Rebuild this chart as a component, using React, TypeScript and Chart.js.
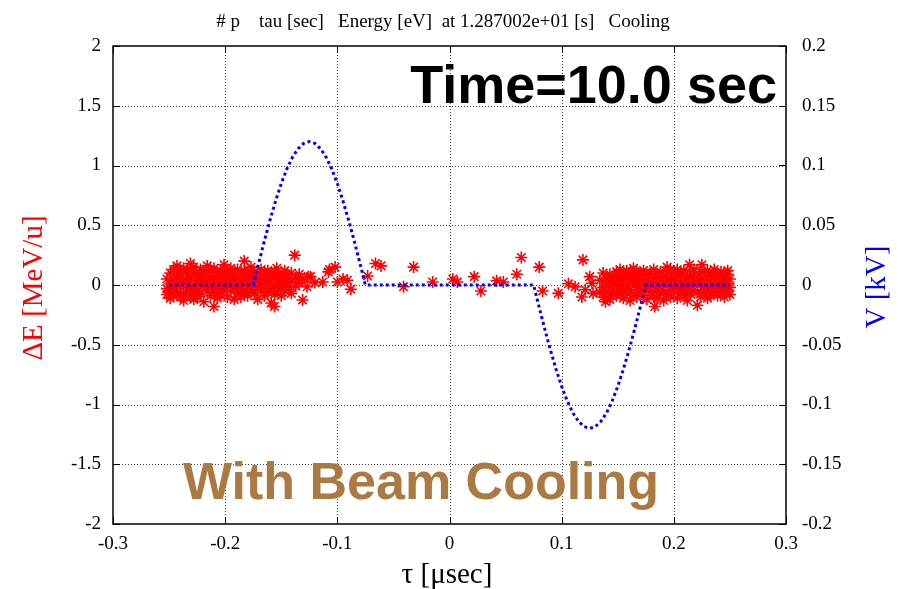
import React, { useEffect, useRef } from "react";
import { Chart, registerables } from "chart.js";

Chart.register(...registerables);

// ---- tick values ----
const xTickValues = [-0.3, -0.2, -0.1, 0, 0.1, 0.2, 0.3];
const yTickValues = [-2, -1.5, -1, -0.5, 0, 0.5, 1, 1.5, 2];
const y2TickValues = [-0.2, -0.15, -0.1, -0.05, 0, 0.05, 0.1, 0.15, 0.2];

// ---- RF voltage (kV) vs tau (usec) ----
const voltTau = [
  -0.25, -0.175, -0.17, -0.165, -0.16, -0.155, -0.15, -0.145, -0.14, -0.135, -0.13,
  -0.125, -0.12, -0.115, -0.11, -0.105, -0.1, -0.095, -0.09, -0.085, -0.08, -0.075,
  0.075, 0.08, 0.085, 0.09, 0.095, 0.1, 0.105, 0.11, 0.115, 0.12,
  0.125, 0.13, 0.135, 0.14, 0.145, 0.15, 0.155, 0.16, 0.165, 0.17, 0.175, 0.25,
];
const voltKV = [
  0, 0, 0.0188, 0.0371, 0.0545, 0.0705, 0.0849, 0.0971, 0.107, 0.1141, 0.1185,
  0.12, 0.1185, 0.1141, 0.107, 0.0971, 0.0849, 0.0705, 0.0545, 0.0371, 0.0188, 0,
  0, -0.0188, -0.0371, -0.0545, -0.0705, -0.0849, -0.0971, -0.107, -0.1141, -0.1185,
  -0.12, -0.1185, -0.1141, -0.107, -0.0971, -0.0849, -0.0705, -0.0545, -0.0371, -0.0188, 0, 0,
];

// ---- particles: [tau (usec), dE (MeV/u)] ----
const leftBunch: [number, number][] = [
  [-0.252, 0.05], [-0.252, -0.03], [-0.252, -0.08],
  [-0.249, 0.1], [-0.249, 0.01], [-0.249, -0.05], [-0.249, -0.11],
  [-0.246, 0.13], [-0.246, 0.04], [-0.246, -0.02], [-0.246, -0.09],
  [-0.243, 0.07], [-0.243, -0.06], [-0.243, 0.16], [-0.243, 0.0],
  [-0.24, 0.11], [-0.24, -0.01], [-0.24, -0.1], [-0.24, 0.05],
  [-0.237, 0.02], [-0.237, 0.14], [-0.237, -0.07], [-0.237, -0.13],
  [-0.234, 0.08], [-0.234, -0.04], [-0.234, 0.12], [-0.234, 0.03],
  [-0.231, -0.09], [-0.231, 0.06], [-0.231, 0.18], [-0.231, -0.02],
  [-0.228, 0.1], [-0.228, 0.0], [-0.228, -0.06], [-0.228, 0.15], [-0.228, -0.12],
  [-0.225, 0.04], [-0.225, -0.1], [-0.225, 0.09], [-0.225, -0.03],
  [-0.222, 0.13], [-0.222, 0.01], [-0.222, -0.07], [-0.222, 0.07],
  [-0.219, -0.01], [-0.219, 0.11], [-0.219, -0.14], [-0.219, 0.05],
  [-0.216, 0.08], [-0.216, -0.05], [-0.216, 0.16], [-0.216, 0.02],
  [-0.213, -0.09], [-0.213, 0.04], [-0.213, 0.12], [-0.213, -0.02],
  [-0.21, 0.07], [-0.21, -0.06], [-0.21, 0.0], [-0.21, 0.14], [-0.21, -0.18],
  [-0.207, 0.1], [-0.207, -0.03], [-0.207, 0.05], [-0.207, -0.11],
  [-0.204, 0.02], [-0.204, 0.12], [-0.204, -0.08], [-0.204, 0.06],
  [-0.201, -0.04], [-0.201, 0.09], [-0.201, 0.17], [-0.201, -0.01],
  [-0.198, 0.05], [-0.198, -0.1], [-0.198, 0.11], [-0.198, 0.0],
  [-0.195, 0.08], [-0.195, -0.05], [-0.195, 0.14], [-0.195, 0.03],
  [-0.192, -0.02], [-0.192, 0.1], [-0.192, -0.12], [-0.192, 0.06],
  [-0.189, 0.04], [-0.189, -0.07], [-0.189, 0.13], [-0.189, 0.0],
  [-0.186, 0.09], [-0.186, -0.03], [-0.186, 0.07], [-0.186, -0.1],
  [-0.183, 0.01], [-0.183, 0.12], [-0.183, -0.06], [-0.183, 0.05], [-0.183, 0.2],
  [-0.18, 0.06], [-0.18, -0.09], [-0.18, 0.1], [-0.18, -0.01],
  [-0.177, 0.03], [-0.177, 0.15], [-0.177, -0.04], [-0.177, 0.08],
  [-0.174, -0.07], [-0.174, 0.05], [-0.174, 0.11], [-0.174, 0.0],
  [-0.171, 0.09], [-0.171, -0.02], [-0.171, 0.04], [-0.171, -0.12],
  [-0.168, 0.02], [-0.168, 0.13], [-0.168, -0.05], [-0.168, 0.07],
  [-0.165, -0.09], [-0.165, 0.06], [-0.165, 0.1], [-0.165, -0.01],
  [-0.162, 0.04], [-0.162, -0.06], [-0.162, 0.12], [-0.162, 0.01],
  [-0.159, 0.08], [-0.159, -0.03], [-0.159, -0.15], [-0.159, 0.05],
  [-0.156, 0.0], [-0.156, 0.11], [-0.156, -0.08], [-0.156, 0.06], [-0.156, -0.18],
  [-0.154, 0.14], [-0.153, 0.04], [-0.153, -0.04], [-0.153, 0.09],
  [-0.15, -0.02], [-0.15, 0.07], [-0.15, 0.02], [-0.15, -0.09],
  [-0.147, 0.05], [-0.147, 0.12], [-0.147, -0.05], [-0.147, 0.01],
  [-0.144, 0.08], [-0.144, -0.02], [-0.144, 0.04],
  [-0.141, 0.03], [-0.141, 0.1], [-0.141, -0.07],
  [-0.138, 0.25], [-0.137, 0.06], [-0.137, -0.01],
  [-0.134, 0.02], [-0.134, 0.09], [-0.131, -0.125], [-0.131, 0.05],
  [-0.127, -0.015], [-0.126, 0.07], [-0.124, 0.07], [-0.12, 0.02],
];

const driftParticles: [number, number][] = [
  [-0.113, 0.025], [-0.108, 0.11], [-0.107, 0.13], [-0.102, 0.15], [-0.1, 0.025],
  [-0.095, 0.05], [-0.091, 0.04], [-0.088, -0.035], [-0.073, 0.075], [-0.066, 0.18],
  [-0.061, 0.16], [-0.041, -0.015], [-0.032, 0.15], [-0.015, 0.025], [0.003, 0.05],
  [0.007, 0.025], [0.022, 0.07], [0.028, -0.05], [0.042, 0.035], [0.048, 0.025],
  [0.06, 0.09], [0.064, 0.23], [0.08, 0.15], [0.083, -0.05], [0.097, -0.07],
  [0.106, 0.01], [0.112, -0.015], [0.119, 0.21], [0.118, -0.1], [0.121, -0.04],
  [0.125, 0.07], [0.127, 0.015], [0.128, -0.07],
];

const rightBunch: [number, number][] = [
  [0.134, 0.04], [0.134, -0.06],
  [0.137, 0.1], [0.137, -0.02], [0.137, -0.1],
  [0.14, 0.06], [0.14, -0.05], [0.14, 0.01], [0.139, -0.14],
  [0.143, 0.09], [0.143, -0.08], [0.143, 0.03], [0.143, -0.12],
  [0.146, 0.0], [0.146, 0.07], [0.146, -0.04],
  [0.149, 0.11], [0.149, -0.09], [0.149, 0.04], [0.149, -0.01],
  [0.152, 0.06], [0.152, -0.06], [0.152, 0.13], [0.152, 0.01],
  [0.155, -0.03], [0.155, 0.09], [0.155, -0.11], [0.155, 0.04],
  [0.158, 0.07], [0.158, -0.07], [0.158, 0.0], [0.158, 0.12],
  [0.161, -0.04], [0.161, 0.05], [0.161, 0.1], [0.161, -0.13],
  [0.164, 0.02], [0.164, -0.08], [0.164, 0.08], [0.164, 0.14],
  [0.167, -0.02], [0.167, 0.06], [0.167, -0.1], [0.167, 0.11],
  [0.17, 0.03], [0.17, -0.05], [0.17, 0.09], [0.17, -0.01],
  [0.173, 0.12], [0.173, -0.09], [0.173, 0.05], [0.173, -0.03],
  [0.176, 0.0], [0.176, 0.08], [0.176, -0.12], [0.176, 0.04],
  [0.179, -0.06], [0.179, 0.1], [0.179, 0.02], [0.179, -0.02],
  [0.182, 0.06], [0.182, -0.09], [0.182, 0.13], [0.183, -0.18],
  [0.185, 0.01], [0.185, -0.04], [0.185, 0.09], [0.185, -0.11],
  [0.188, 0.11], [0.188, -0.01], [0.188, 0.05], [0.188, -0.07],
  [0.191, -0.05], [0.191, 0.07], [0.191, 0.02], [0.191, -0.13],
  [0.194, 0.15], [0.194, 0.03], [0.194, -0.08], [0.194, 0.09],
  [0.197, -0.02], [0.197, 0.06], [0.197, -0.1], [0.197, 0.12],
  [0.2, 0.04], [0.2, -0.05], [0.2, 0.1], [0.2, -0.01],
  [0.203, 0.08], [0.203, -0.11], [0.203, 0.01], [0.203, 0.13],
  [0.206, -0.03], [0.206, 0.05], [0.206, -0.07], [0.206, 0.1],
  [0.209, 0.02], [0.209, 0.12], [0.209, -0.09], [0.209, -0.02],
  [0.212, 0.07], [0.212, -0.05], [0.212, 0.03], [0.212, -0.13],
  [0.214, 0.17],
  [0.215, 0.1], [0.215, -0.01], [0.215, 0.05], [0.215, -0.08],
  [0.218, -0.04], [0.218, 0.08], [0.218, 0.01], [0.218, 0.13],
  [0.221, -0.17], [0.221, 0.06], [0.221, -0.06], [0.221, 0.02],
  [0.224, 0.11], [0.224, -0.1], [0.224, 0.04], [0.225, 0.17],
  [0.227, -0.02], [0.227, 0.09], [0.227, -0.07], [0.227, 0.0],
  [0.23, 0.05], [0.23, -0.04], [0.23, 0.12], [0.23, -0.11],
  [0.233, 0.08], [0.233, -0.01], [0.233, 0.03], [0.233, -0.08],
  [0.236, -0.05], [0.236, 0.1], [0.236, 0.01], [0.236, 0.13],
  [0.239, 0.06], [0.239, -0.09], [0.239, -0.02], [0.239, 0.09],
  [0.242, 0.03], [0.242, -0.06], [0.242, 0.11], [0.242, 0.0],
  [0.245, -0.1], [0.245, 0.07], [0.245, 0.04], [0.245, -0.03],
  [0.248, 0.09], [0.248, -0.05], [0.248, 0.01], [0.248, 0.12],
  [0.25, 0.05], [0.25, -0.02], [0.25, -0.08],
];

const titleText = "# p    tau [sec]   Energy [eV]  at 1.287002e+01 [s]   Cooling";
const timeText = "Time=10.0 sec";
const coolText = "With Beam Cooling";
const xLabel = "τ [μsec]";
const yLabel = "ΔE [MeV/u]";
const y2Label = "V [kV]";

const fmt = (v: number) => String(parseFloat(v.toFixed(3)));

const framePlugin = {
  id: "frame",
  beforeDatasetsDraw(chart: any) {
    const { ctx, chartArea: a, scales } = chart;
    const sx = scales.x, sy = scales.y, sy2 = scales.y2;
    ctx.save();
    const line = (x1: number, y1: number, x2: number, y2: number) => {
      ctx.beginPath();
      ctx.moveTo(x1, y1);
      ctx.lineTo(x2, y2);
      ctx.stroke();
    };
    // dotted grid
    ctx.strokeStyle = "#444";
    ctx.lineWidth = 1;
    ctx.setLineDash([1, 2]);
    xTickValues.slice(1, -1).forEach((v) => {
      const p = Math.round(sx.getPixelForValue(v)) + 0.5;
      line(p, a.top, p, a.bottom);
    });
    yTickValues.slice(1, -1).forEach((v) => {
      const p = Math.round(sy.getPixelForValue(v)) + 0.5;
      line(a.left, p, a.right, p);
    });
    ctx.setLineDash([]);
    ctx.strokeStyle = "#000";
    const tl = 7;
    xTickValues.forEach((v) => {
      const p = Math.round(sx.getPixelForValue(v)) + 0.5;
      line(p, a.bottom, p, a.bottom - tl);
      line(p, a.top, p, a.top + tl);
    });
    yTickValues.forEach((v) => {
      const p = Math.round(sy.getPixelForValue(v)) + 0.5;
      line(a.left, p, a.left + tl, p);
    });
    y2TickValues.forEach((v) => {
      const p = Math.round(sy2.getPixelForValue(v)) + 0.5;
      line(a.right, p, a.right - tl, p);
    });
    ctx.lineWidth = 1.5;
    ctx.strokeRect(a.left, a.top, a.right - a.left, a.bottom - a.top);
    ctx.restore();
  },
  afterDraw(chart: any) {
    const { ctx, chartArea: a } = chart;
    ctx.save();
    ctx.fillStyle = "#000";
    ctx.textAlign = "center";
    ctx.textBaseline = "alphabetic";
    ctx.font = '19px "Liberation Serif"';
    ctx.fillText(titleText, 443, 27);

    ctx.font = 'bold 54px "Liberation Sans"';
    ctx.textAlign = "right";
    ctx.fillText(timeText, 777, 103);

    ctx.font = 'bold 52px "Liberation Sans"';
    ctx.textAlign = "center";
    ctx.fillStyle = "#aa7a42";
    ctx.fillText(coolText, 421, 499);

    ctx.fillStyle = "#000";
    ctx.font = '29px "Liberation Serif"';
    ctx.fillText(xLabel, 447, 583);

    ctx.textBaseline = "middle";
    ctx.save();
    ctx.translate(34, 288);
    ctx.rotate(-Math.PI / 2);
    ctx.fillStyle = "#ff0000";
    ctx.fillText(yLabel, 0, 0);
    ctx.restore();

    ctx.save();
    ctx.translate(877, 287);
    ctx.rotate(-Math.PI / 2);
    ctx.fillStyle = "#0000ff";
    ctx.fillText(y2Label, 0, 0);
    ctx.restore();
    ctx.restore();
  },
};

export default function App() {
  const ref = useRef<HTMLCanvasElement | null>(null);
  useEffect(() => {
    if (!ref.current) return;
    const particles = [...leftBunch, ...driftParticles, ...rightBunch].map(([x, y]) => ({ x, y }));
    const volts = voltTau.map((x, i) => ({ x, y: voltKV[i] }));
    const tickFont = { family: '"Liberation Serif"', size: 19 };
    const chart = new Chart(ref.current, {
      type: "scatter",
      data: {
        datasets: [
          {
            label: "V",
            data: volts,
            yAxisID: "y2",
            showLine: true,
            borderColor: "#0000ff",
            backgroundColor: "#0000ff",
            borderWidth: 3,
            borderDash: [3, 3],
            pointRadius: 0,
            tension: 0,
          } as any,
          {
            label: "dE",
            data: particles,
            yAxisID: "y",
            pointStyle: "star",
            pointRadius: 6,
            borderColor: "#ff0000",
            backgroundColor: "#ff0000",
            pointBorderWidth: 1.6,
          } as any,
        ],
      },
      options: {
        animation: false,
        responsive: false,
        devicePixelRatio: 1,
        events: [],
        layout: { padding: { top: 46, left: 0, right: 0, bottom: 0 } },
        plugins: { legend: { display: false }, tooltip: { enabled: false }, title: { display: false } },
        scales: {
          x: {
            type: "linear",
            min: -0.3,
            max: 0.3,
            grid: { display: false, drawTicks: false },
            border: { display: false },
            afterBuildTicks: (s: any) => { s.ticks = xTickValues.map((value) => ({ value })); },
            afterFit: (s: any) => { s.height = 65; },
            ticks: { color: "#000", font: tickFont, padding: 9, maxRotation: 0, autoSkip: false, callback: (v: any) => fmt(Number(v)) },
          },
          y: {
            type: "linear",
            position: "left",
            min: -2,
            max: 2,
            grid: { display: false, drawTicks: false },
            border: { display: false },
            afterBuildTicks: (s: any) => { s.ticks = yTickValues.map((value) => ({ value })); },
            afterFit: (s: any) => { s.width = 113; },
            ticks: { color: "#000", font: tickFont, padding: 12, autoSkip: false, callback: (v: any) => fmt(Number(v)) },
          },
          y2: {
            type: "linear",
            position: "right",
            min: -0.2,
            max: 0.2,
            grid: { display: false, drawTicks: false },
            border: { display: false },
            afterBuildTicks: (s: any) => { s.ticks = y2TickValues.map((value) => ({ value })); },
            afterFit: (s: any) => { s.width = 118; },
            ticks: { color: "#000", font: tickFont, padding: 16, autoSkip: false, callback: (v: any) => fmt(Number(v)) },
          },
        },
      } as any,
      plugins: [framePlugin],
    });
    return () => chart.destroy();
  }, []);
  return (
    <div style={{ position: "absolute", left: 0, top: 0, width: 904, height: 589, background: "#fff" }}>
      <canvas ref={ref} width={904} height={589} style={{ display: "block" }} />
    </div>
  );
}
